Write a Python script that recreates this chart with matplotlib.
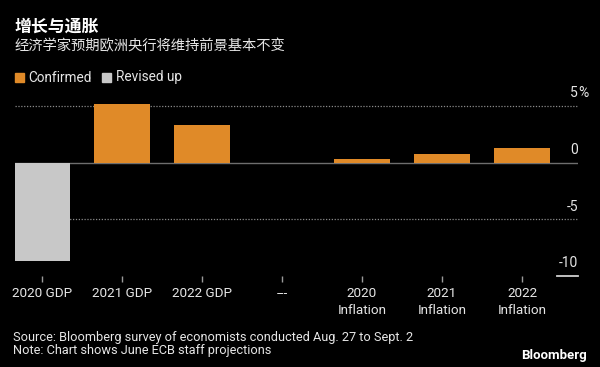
import matplotlib
matplotlib.use("Agg")
import matplotlib.pyplot as plt
import matplotlib.patches as mpatches
import numpy as np

categories = ["2020 GDP", "2021 GDP", "2022 GDP", "---",
              "2020\nInflation", "2021\nInflation", "2022\nInflation"]
values = [-8.7, 5.2, 3.3, np.nan, 0.3, 0.8, 1.3]
status = ["Revised up", "Confirmed", "Confirmed", None, "Confirmed", "Confirmed", "Confirmed"]
y_ticks = [5, 0, -5, -10]
y_tick_labels = ["5", "0", "-5", "-10"]

title = "增长与通胀"
subtitle = "经济学家预期欧洲央行将维持前景基本不变"
source = "Source: Bloomberg survey of economists conducted Aug. 27 to Sept. 2"
note = "Note: Chart shows June ECB staff projections"

ORANGE = "#E08A28"
GRAY = "#C8C8C8"
TEXT = "#E6E6E6"
colors = {"Confirmed": ORANGE, "Revised up": GRAY}

LATIN = "Roboto"
CJK = ["Noto Sans CJK SC", "DejaVu Sans"]
plt.rcParams['font.family'] = [LATIN, "DejaVu Sans"]

W, H = 600, 367
fig = plt.figure(figsize=(6, 3.67), dpi=100, facecolor="black")

def fx(px):
    return px / W

def fy(py):
    return 1 - py / H

ax = fig.add_axes([fx(14.5), fy(276), fx(578) - fx(14.5), fy(100.4) - fy(276)])
ax.set_facecolor("black")
x = np.arange(len(categories))
bar_colors = [colors.get(s, ORANGE) if s else ORANGE for s in status]
ax.bar(x, values, width=0.69, color=bar_colors, zorder=3)
ax.set_xlim(-0.344, 6.7)
ax.set_ylim(-10, 5.5)

for s in ax.spines.values():
    s.set_visible(False)

ax.axhline(0, color="#6e6e6e", lw=1.0, zorder=2)
for yv in [5, -5]:
    ax.axhline(yv, color="#8a8a8a", lw=0.9, ls=(0, (1, 1.3)), zorder=1)
ax.axhline(-10, xmin=0.962, xmax=1.0, color="#d0d0d0", lw=1.3, clip_on=False, zorder=2)

ax.set_yticks([])
for yv, lab in zip(y_ticks, y_tick_labels):
    ax.text(1.0, yv + 1.12, lab, transform=ax.get_yaxis_transform(), ha="right", va="center",
            color=TEXT, fontsize=10, clip_on=False)
    if yv == 5:
        ax.text(1.0, yv + 1.12, "%", transform=ax.get_yaxis_transform(), ha="left", va="center",
                color=TEXT, fontsize=10, clip_on=False)

ax.set_xticks(x)
ax.set_xticklabels(categories, color=TEXT, fontsize=9.7, linespacing=1.35)
ax.tick_params(axis="x", colors="#9a9a9a", length=4.0, width=1, pad=4, labelcolor=TEXT)

fig.text(fx(15), fy(27), title, family=CJK, fontsize=12.2, fontweight="bold", color="white", va="center")
fig.text(fx(15), fy(46.5), subtitle, family=CJK, fontsize=10.3, color=TEXT, va="center")

# legend
fig.patches.append(mpatches.Rectangle((fx(15), fy(82)), fx(8.5), fy(73) - fy(82),
                                      transform=fig.transFigure, color=ORANGE))
fig.text(fx(28), fy(77.5), "Confirmed", fontsize=9.8, color=TEXT, va="center")
fig.patches.append(mpatches.Rectangle((fx(102), fy(82)), fx(8.5), fy(73) - fy(82),
                                      transform=fig.transFigure, color=GRAY))
fig.text(fx(116), fy(77.5), "Revised up", fontsize=9.8, color=TEXT, va="center")

fig.text(fx(13), fy(337), source, fontsize=9.2, color=TEXT, va="center")
fig.text(fx(13), fy(350.5), note, fontsize=9.2, color=TEXT, va="center")
fig.text(fx(587), fy(356), "Bloomberg", fontsize=9.5, fontweight="bold", color="white",
         va="center", ha="right")

fig.savefig("out.png", dpi=100, facecolor="black")
